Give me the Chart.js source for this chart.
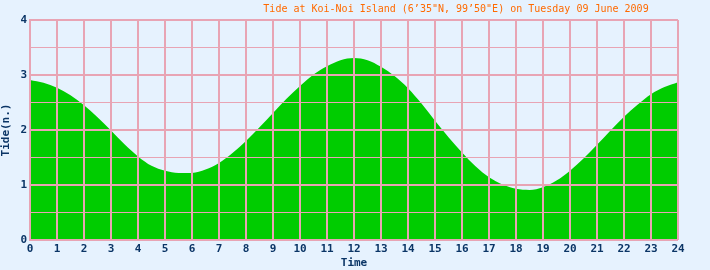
<!DOCTYPE html>
<html>
<head>
<meta charset="utf-8">
<script src="https://cdn.jsdelivr.net/npm/chart.js@4/dist/chart.umd.min.js"></script>
<style>
    html, body { margin: 0; padding: 0; background: #e6f2fe; }
    #wrap { width: 710px; height: 270px; }
</style>
</head>
<body>
<div id="wrap"><canvas id="tideChart" width="710" height="270"></canvas></div>
<script>
const chartTitle = "Tide at Koi-Noi Island (6\u201935\"N, 99\u201950\"E) on Tuesday 09 June 2009"

// hours of the day, half hour steps
const hours = [0, 0.5, 1, 1.5, 2, 2.5, 3, 3.5, 4, 4.5, 5, 5.5, 6, 6.5, 7, 7.5, 8, 8.5, 9, 9.5, 10, 10.5, 11, 11.5,
    12, 12.5, 13, 13.5, 14, 14.5, 15, 15.5, 16, 16.5, 17, 17.5, 18, 18.5, 19, 19.5, 20, 20.5, 21, 21.5, 22, 22.5, 23, 23.5, 24]

// tide height
const tide = [2.91, 2.86, 2.77, 2.63, 2.45, 2.23, 1.99, 1.74, 1.52, 1.35, 1.26, 1.22, 1.22, 1.28, 1.40, 1.58, 1.80, 2.05, 2.31, 2.57,
    2.80, 3.01, 3.16, 3.27, 3.31, 3.27, 3.15, 2.98, 2.76, 2.48, 2.17, 1.87, 1.59, 1.34, 1.14, 1.01, 0.93, 0.91, 0.96, 1.08,
    1.26, 1.48, 1.73, 1.99, 2.24, 2.46, 2.65, 2.78, 2.87]

const yTicks = [0, 1, 2, 3, 4]

const navy = "#0b3566"
const pink = "#e8a4b4"

const titlePlugin = {
    id: "topTitle",
    afterDraw(chart) {
        const ctx = chart.ctx
        ctx.save()
        ctx.font = "10px 'DejaVu Sans Mono'"
        ctx.fillStyle = "#ff6a00"
        ctx.textAlign = "center"
        ctx.textBaseline = "middle"
        ctx.fillText(chartTitle, 456, 9)
        ctx.restore()
    }
}

const ctx = document.getElementById("tideChart").getContext("2d")

new Chart(ctx, {
    type: "line",
    data: {
        labels: hours,
        datasets: [{
            data: hours.map((h, i) => ({ x: h, y: tide[i] })),
            borderColor: "#00cc00",
            borderWidth: 0,
            backgroundColor: "#00cc00",
            fill: "origin",
            pointRadius: 0,
            cubicInterpolationMode: "monotone"
        }]
    },
    options: {
        responsive: false,
        animation: false,
        layout: { padding: { top: 20, right: 32, left: 0, bottom: 0 } },
        plugins: {
            legend: { display: false },
            tooltip: { enabled: false }
        },
        scales: {
            x: {
                type: "linear",
                min: 0,
                max: 24,
                afterFit(scale) { scale.height = 30 },
                grid: { color: pink, lineWidth: 2, drawTicks: false, z: 1 },
                border: { display: false },
                ticks: {
                    stepSize: 1,
                    padding: 3,
                    color: navy,
                    font: { family: "DejaVu Sans Mono", size: 11, weight: "bold" }
                },
                title: {
                    display: true,
                    text: "Time",
                    color: navy,
                    padding: 0,
                    font: { family: "DejaVu Sans Mono", size: 11, weight: "bold" }
                }
            },
            y: {
                min: 0,
                max: 4,
                afterFit(scale) { scale.width = 30 },
                grid: {
                    color: pink,
                    drawTicks: false,
                    z: 1,
                    lineWidth: (c) => (Number.isInteger(c.tick.value) ? 2 : 1)
                },
                border: { display: true, color: pink, width: 2, z: 1 },
                ticks: {
                    stepSize: 0.5,
                    padding: 3,
                    color: navy,
                    font: { family: "DejaVu Sans Mono", size: 11, weight: "bold" },
                    callback: (v) => (yTicks.includes(v) ? String(v) : "")
                },
                title: {
                    display: true,
                    text: "Tide(n.)",
                    color: navy,
                    padding: { top: 0, bottom: 3 },
                    font: { family: "DejaVu Sans Mono", size: 11, weight: "bold" }
                }
            }
        }
    },
    plugins: [titlePlugin]
})
</script>
</body>
</html>
